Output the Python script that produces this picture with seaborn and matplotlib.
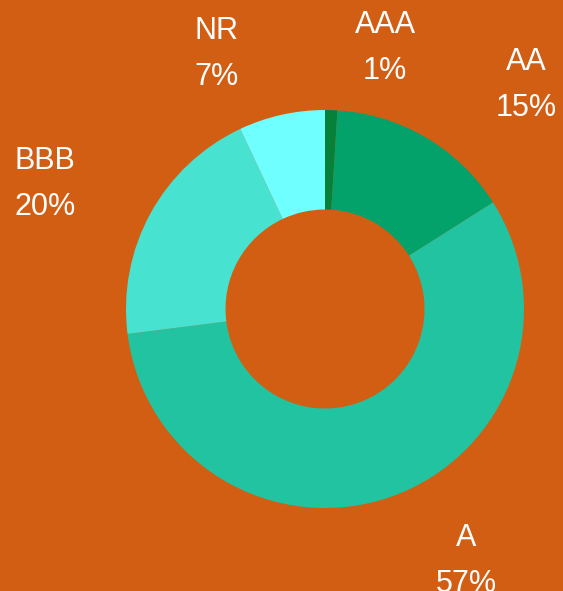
import matplotlib
matplotlib.use("Agg")
import matplotlib.pyplot as plt
import seaborn as sns

# rating split
ratings = ["AAA", "AA", "A", "BBB", "NR"]
shares = [1, 15, 57, 20, 7]
colors = ["#07803A", "#02A26A", "#21C3A0", "#48E3D0", "#6FFFFF"]

# label spots, in pie radii from the centre
label_pos = {
    "AAA": (0.302, 1.312),
    "AA": (1.010, 1.126),
    "A": (0.709, -1.266),
    "BBB": (-1.407, 0.628),
    "NR": (-0.543, 1.281),
}

sns.set_style("white")
plt.rcParams["font.family"] = ["Liberation Sans", "DejaVu Sans"]

bg = "#D25E14"
fig = plt.figure(figsize=(5.63, 5.91), dpi=100, facecolor=bg)
ax = fig.add_axes([0, 0, 1, 1])
ax.set_facecolor(bg)

ax.pie(shares, colors=sns.color_palette(colors), startangle=90, counterclock=False,
       radius=1.0, wedgeprops=dict(width=0.5, linewidth=0))

for name, val in zip(ratings, shares):
    x, y = label_pos[name]
    ax.text(x, y, f"{name}\n{val}%", ha="center", va="center", color="white",
            fontsize=22, linespacing=1.66)

ax.set_xlim(-325 / 199, (563 - 325) / 199)
ax.set_ylim(-(591 - 309) / 199, 309 / 199)
ax.set_aspect("auto")
ax.axis("off")

fig.savefig("out.png", dpi=100, facecolor=bg)
